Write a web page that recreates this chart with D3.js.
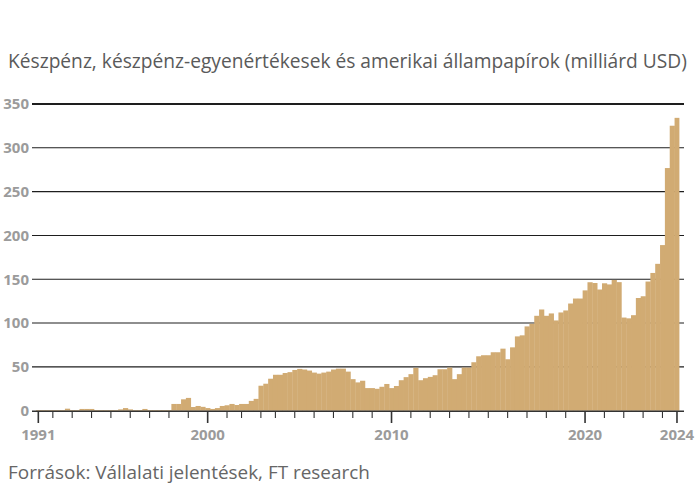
<!DOCTYPE html>
<html>
<head>
<meta charset="utf-8">
<script src="https://cdn.jsdelivr.net/npm/d3@7"></script>
<style>
  body { margin: 0; background: #fff; }
  svg { display: block; }
  .title { font-family: "Open Sans", sans-serif; fill: #5a5a5a; }
  .source { font-family: "Open Sans", sans-serif; fill: #666; }
  .tickText { font-family: "Open Sans", sans-serif; font-weight: 700; fill: #9b9b9b; font-size: 15px; }
</style>
</head>
<body>
<div id="chart"></div>
<script>
"use strict";

// reporting periods (2001 and 2003 have only three periods in the source)
let periods = [
  "1991Q2", "1991Q3", "1991Q4",
  "1992Q1", "1992Q2", "1992Q3", "1992Q4",
  "1993Q1", "1993Q2", "1993Q3", "1993Q4",
  "1994Q1", "1994Q2", "1994Q3", "1994Q4",
  "1995Q1", "1995Q2", "1995Q3", "1995Q4",
  "1996Q1", "1996Q2", "1996Q3", "1996Q4",
  "1997Q1", "1997Q2", "1997Q3", "1997Q4",
  "1998Q1", "1998Q2", "1998Q3", "1998Q4",
  "1999Q1", "1999Q2", "1999Q3", "1999Q4",
  "2000Q1", "2000Q2", "2000Q3", "2000Q4",
  "2001Q1", "2001Q2", "2001Q4",
  "2002Q1", "2002Q2", "2002Q3", "2002Q4",
  "2003Q1", "2003Q2", "2003Q4",
  "2004Q1", "2004Q2", "2004Q3", "2004Q4",
  "2005Q1", "2005Q2", "2005Q3", "2005Q4",
  "2006Q1", "2006Q2", "2006Q3", "2006Q4",
  "2007Q1", "2007Q2", "2007Q3", "2007Q4",
  "2008Q1", "2008Q2", "2008Q3", "2008Q4",
  "2009Q1", "2009Q2", "2009Q3", "2009Q4",
  "2010Q1", "2010Q2", "2010Q3", "2010Q4",
  "2011Q1", "2011Q2", "2011Q3", "2011Q4",
  "2012Q1", "2012Q2", "2012Q3", "2012Q4",
  "2013Q1", "2013Q2", "2013Q3", "2013Q4",
  "2014Q1", "2014Q2", "2014Q3", "2014Q4",
  "2015Q1", "2015Q2", "2015Q3", "2015Q4",
  "2016Q1", "2016Q2", "2016Q3", "2016Q4",
  "2017Q1", "2017Q2", "2017Q3", "2017Q4",
  "2018Q1", "2018Q2", "2018Q3", "2018Q4",
  "2019Q1", "2019Q2", "2019Q3", "2019Q4",
  "2020Q1", "2020Q2", "2020Q3", "2020Q4",
  "2021Q1", "2021Q2", "2021Q3", "2021Q4",
  "2022Q1", "2022Q2", "2022Q3", "2022Q4",
  "2023Q1", "2023Q2", "2023Q3", "2023Q4",
  "2024Q1", "2024Q2", "2024Q3", "2024Q4"
];

// billion USD
let cashValues = [
  0.8, 0.8, 0.8,
  0.8, 0.8, 0.8, 2.3,
  0.8, 0.8, 2.0, 2.0,
  2.0, 0.8, 0.8, 0.8,
  0.8, 0.8, 1.5, 3.0,
  1.5, 0.8, 0.8, 2.0,
  0.8, 0.8, 0.8, 0.8,
  0.8, 7.7, 7.7, 13.0,
  14.6, 4.2, 5.4, 4.4,
  3.0, 2.0, 3.0, 5.4,
  6.2, 7.7, 6.5,
  7.7, 7.7, 11.2, 13.5,
  28.5, 30.8, 36.5,
  41.0, 41.0, 43.0, 44.0,
  46.5, 47.7, 47.0, 45.8,
  43.5, 42.3, 43.5, 44.6,
  47.0, 48.0, 48.0, 44.6,
  36.0, 32.3, 34.2, 25.8,
  25.8, 25.0, 27.3, 30.5,
  25.8, 28.2, 34.8, 38.3,
  41.7, 48.9, 34.8, 37.1,
  38.6, 40.5, 47.3, 47.3,
  49.2, 36.0, 41.7, 49.2,
  49.2, 55.3, 62.1, 63.3,
  63.3, 66.7, 66.7, 70.8,
  58.7, 72.3, 84.8, 86.0,
  96.2, 99.2, 108.3, 115.5,
  108.3, 111.0, 103.0, 112.1,
  114.4, 122.3, 128.0, 128.0,
  137.3, 146.6, 145.7, 138.3,
  145.4, 144.1, 149.2, 146.7,
  106.3, 105.4, 109.0, 128.6,
  130.6, 147.4, 157.2, 167.6,
  189.0, 276.9, 325.2, 334.2
];

let yTicks = [0, 50, 100, 150, 200, 250, 300, 350];
let labelledPeriods = ["1991Q2", "2000Q1", "2010Q1", "2020Q1", "2024Q4"];
let labelText = ["1991", "2000", "2010", "2020", "2024"];

let titleText = "Készpénz, készpénz-egyenértékesek és amerikai állampapírok (milliárd USD)";
let sourceText = "Források: Vállalati jelentések, FT research";

let width = 700;
let height = 500;

let svg = d3.select("#chart").append("svg")
  .attr("width", width)
  .attr("height", height)
  .attr("viewBox", [0, 0, width, height].join(" "));

let x = d3.scaleBand()
  .domain(periods)
  .range([35.9, 679.4])
  .paddingInner(0);

let y = d3.scaleLinear()
  .domain([0, 350])
  .range([410.7, 104]);

// fit a text element to a target width by changing its font size
function fitText(sel, targetWidth, startSize) {
  sel.style("font-size", startSize + "px");
  let w = sel.node().getComputedTextLength();
  sel.style("font-size", (startSize * targetWidth / w).toFixed(2) + "px");
}

// title
let title = svg.append("text")
  .attr("class", "title")
  .attr("x", 8)
  .attr("y", 68)
  .text(titleText);
fitText(title, 679, 16);

// gridlines
svg.append("g")
  .selectAll("line")
  .data(yTicks.filter(d => d > 0))
  .enter().append("line")
  .attr("x1", 32)
  .attr("x2", 684)
  .attr("y1", d => y(d))
  .attr("y2", d => y(d))
  .attr("stroke", "#1e1e1e")
  .attr("stroke-width", d => d === 350 ? 2 : 1.1);

// y labels
svg.append("g")
  .selectAll("text")
  .data(yTicks)
  .enter().append("text")
  .attr("class", "tickText")
  .attr("x", 29)
  .attr("y", d => y(d))
  .attr("dy", "0.36em")
  .style("text-anchor", "end")
  .text(d => d);

// bars, a hair wider than the band so neighbours close up
svg.append("g")
  .selectAll("rect")
  .data(periods)
  .enter().append("rect")
  .attr("x", d => x(d))
  .attr("y", (d, i) => y(cashValues[i]))
  .attr("width", (d, i) => x.bandwidth() + (i < periods.length - 1 ? 0.35 : 0))
  .attr("height", (d, i) => y(0) - y(cashValues[i]))
  .attr("fill", "#d1ab73");

// x axis line
svg.append("line")
  .attr("x1", 32)
  .attr("x2", 684)
  .attr("y1", y(0) + 0.5)
  .attr("y2", y(0) + 0.5)
  .attr("stroke", "#333")
  .attr("stroke-width", 1.6);

// year ticks sit at the centre of each year's first period
let firstOfYear = periods.filter((p, i) => i === 0 || p.slice(0, 4) !== periods[i - 1].slice(0, 4));
let tickPeriods = firstOfYear.concat(["2024Q4"]);
let centre = p => x(p) + x.bandwidth() / 2;

svg.append("g")
  .selectAll("line")
  .data(tickPeriods)
  .enter().append("line")
  .attr("x1", d => centre(d))
  .attr("x2", d => centre(d))
  .attr("y1", y(0) + 1)
  .attr("y2", d => labelledPeriods.includes(d) ? 423 : 418)
  .attr("stroke", "#333")
  .attr("stroke-width", d => labelledPeriods.includes(d) ? 1.6 : 1.1);

svg.append("g")
  .selectAll("text")
  .data(labelledPeriods)
  .enter().append("text")
  .attr("class", "tickText")
  .attr("x", d => centre(d))
  .attr("y", 440)
  .style("text-anchor", "middle")
  .text((d, i) => labelText[i]);

// source
let source = svg.append("text")
  .attr("class", "source")
  .attr("x", 8)
  .attr("y", 479)
  .text(sourceText);
fitText(source, 362, 15);
</script>
</body>
</html>
